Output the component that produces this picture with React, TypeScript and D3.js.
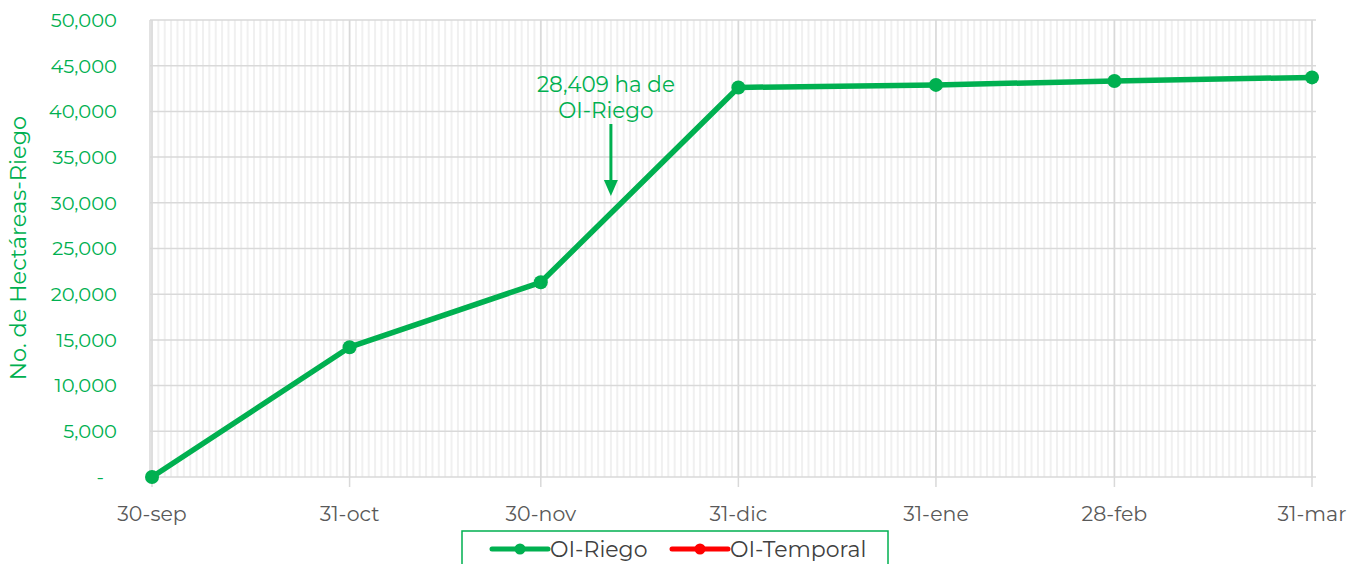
import React from "react";
import * as d3 from "d3";

const dateLabels = ["30-sep", "31-oct", "30-nov", "31-dic", "31-ene", "28-feb", "31-mar"];
const dayOffsets = [0, 31, 61, 92, 123, 151, 182];
const riegoValues = [0, 14200, 21300, 42620, 42900, 43330, 43720];
const yTicks = [0, 5000, 10000, 15000, 20000, 25000, 30000, 35000, 40000, 45000, 50000];
const annotationLines = ["28,409 ha de", "OI-Riego"];
const annotationDay = 72;
const legendItems = [
  { name: "OI-Riego", color: "#00b050" },
  { name: "OI-Temporal", color: "#ff0000" },
];

const GREEN = "#00b050";
const FONT = "Montserrat, 'Open Sans', sans-serif";

export default function App() {
  const W = 1355, H = 564;
  const left = 150, right = 1312, top = 20, bottom = 477;
  const x = d3.scaleLinear().domain([0, 182]).range([left + 2, right]);
  const y = d3.scaleLinear().domain([0, 50000]).range([bottom, top]);
  const days = d3.range(0, 183);
  const pts = dayOffsets.map((d, i) => [x(d), y(riegoValues[i])] as [number, number]);
  const line = d3.line()(pts) || "";
  const ax = x(annotationDay);

  return (
    <svg width={W} height={H} style={{ position: "absolute", left: 0, top: 0 }} fontFamily={FONT}>
      <rect width={W} height={H} fill="#fff" />
      {days.map((d) => (
        <line key={"m" + d} x1={x(d)} x2={x(d)} y1={top} y2={bottom} stroke="#f0f0f0" strokeWidth={2} />
      ))}
      {yTicks.map((t) => (
        <line key={"h" + t} x1={left} x2={right + 4} y1={y(t)} y2={y(t)} stroke="#d9d9d9" strokeWidth={1.5} />
      ))}
      {dayOffsets.map((d) => (
        <line key={"v" + d} x1={x(d)} x2={x(d)} y1={top} y2={bottom + 10} stroke="#d9d9d9" strokeWidth={1.5} />
      ))}
      <line x1={left} x2={left} y1={top} y2={bottom} stroke="#d9d9d9" strokeWidth={1.5} />
      {yTicks.map((t) => (
        <text key={"yt" + t} x={t === 0 ? 104 : 117} y={y(t)} dy="0.35em" textAnchor="end" fill={GREEN} fontSize={19.5}>
          {t === 0 ? "-" : d3.format(",")(t)}
        </text>
      ))}
      {dayOffsets.map((d, i) => (
        <text key={"xt" + d} x={x(d)} y={521} textAnchor="middle" fill="#595959" fontSize={20.5}>
          {dateLabels[i]}
        </text>
      ))}
      <text transform={`translate(26,${248}) rotate(-90)`} textAnchor="middle" fill={GREEN} fontSize={22.5}>
        No. de Hectáreas-Riego
      </text>
      <path d={line} fill="none" stroke={GREEN} strokeWidth={5.5} strokeLinejoin="round" />
      {pts.map((p, i) => (
        <circle key={"c" + i} cx={p[0]} cy={p[1]} r={7} fill={GREEN} />
      ))}
      {annotationLines.map((s, i) => (
        <text key={"a" + i} x={ax - 5} y={92 + i * 26} textAnchor="middle" fill={GREEN} fontSize={21.5}>
          {s}
        </text>
      ))}
      <line x1={ax} x2={ax} y1={124} y2={182} stroke={GREEN} strokeWidth={3} />
      <path d={`M${ax - 7},${180} L${ax + 7},${180} L${ax},${196} Z`} fill={GREEN} />
      <rect x={462} y={531} width={426} height={50} fill="#fff" stroke={GREEN} strokeWidth={1.5} />
      {legendItems.map((it, i) => {
        const lx = 492 + i * 180;
        return (
          <g key={it.name}>
            <line x1={lx} x2={lx + 56} y1={549} y2={549} stroke={it.color} strokeWidth={5} strokeLinecap="round" />
            <circle cx={lx + 28} cy={549} r={5.5} fill={it.color} />
            <text x={lx + 58} y={549} dy="0.35em" fill="#404040" fontSize={22}>
              {it.name}
            </text>
          </g>
        );
      })}
    </svg>
  );
}
